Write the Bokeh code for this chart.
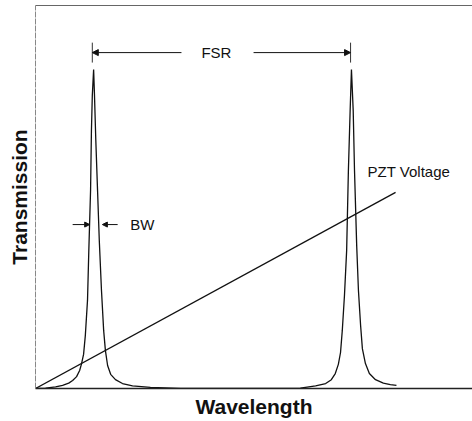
from bokeh.plotting import figure
from bokeh.models import Range1d, Label, Arrow, NormalHead, LinearAxis, FixedTicker
from bokeh.embed import file_html
from bokeh.resources import INLINE

# Transmission curve (wavelength, arbitrary units; transmission 0..1)
wavelength = [0.00, 0.23, 0.46, 0.62, 0.76, 0.85, 0.94, 1.01, 1.05, 1.10, 1.14, 1.19, 1.22,
              1.26, 1.28, 1.30, 1.33, 1.35, 1.38, 1.42, 1.46, 1.51, 1.56, 1.60, 1.65, 1.72,
              1.83, 1.99, 2.22, 2.63, 3.32, 4.46, 5.61, 6.06, 6.41, 6.64, 6.77, 6.86, 6.93,
              6.98, 7.02, 7.07, 7.12, 7.16, 7.20, 7.23, 7.27, 7.30, 7.35, 7.39, 7.44, 7.48,
              7.55, 7.64, 7.78, 7.96, 8.12, 8.26]
transmission = [0.000, 0.001, 0.004, 0.008, 0.014, 0.021, 0.031, 0.047, 0.063, 0.089, 0.138,
                0.230, 0.360, 0.517, 0.674, 0.765, 0.833, 0.765, 0.648, 0.517, 0.386, 0.256,
                0.151, 0.099, 0.060, 0.037, 0.023, 0.013, 0.007, 0.003, 0.000, 0.000, 0.000,
                0.001, 0.007, 0.013, 0.023, 0.039, 0.063, 0.094, 0.151, 0.243, 0.360, 0.569,
                0.726, 0.833, 0.726, 0.569, 0.373, 0.256, 0.164, 0.104, 0.065, 0.039, 0.023,
                0.014, 0.010, 0.008]

# PZT voltage ramp
pzt_x = [0.0, 8.24]
pzt_y = [0.0, 0.512]

# Annotation anchors (data units)
peak_positions = [1.30, 7.21]
fsr_level = 0.877
bw_level = 0.428

p = figure(width=472, height=421, output_backend="svg", toolbar_location=None,
           x_range=Range1d(0, 10.0), y_range=Range1d(0, 1.0),
           min_border_left=35, min_border_right=0, min_border_top=5, min_border_bottom=33)
p.outline_line_color = None
p.grid.visible = False
p.background_fill_color = "white"
p.border_fill_color = "white"

# axes (no ticks, no tick labels)
for ax in (p.xaxis[0], p.yaxis[0]):
    ax.ticker = FixedTicker(ticks=[])
    ax.major_tick_line_color = None
    ax.minor_tick_line_color = None
    ax.major_tick_out = 0
    ax.major_label_standoff = 0
    ax.axis_label_text_font = "Liberation Sans"
    ax.axis_label_text_font_style = "bold"
    ax.axis_label_text_font_size = "21px"
    ax.axis_label_text_color = "#111111"

p.xaxis.axis_label = "Wavelength"
p.xaxis.axis_line_color = "#222222"
p.xaxis.axis_line_width = 1.5
p.xaxis.axis_label_standoff = 6

p.yaxis.axis_label = "Transmission"
p.yaxis.axis_line_color = "#888888"
p.yaxis.axis_line_width = 1
p.yaxis.axis_line_dash = "6 1"
p.yaxis.axis_label_standoff = 5

top_axis = LinearAxis(ticker=FixedTicker(ticks=[]), major_tick_line_color=None,
                      minor_tick_line_color=None, major_tick_out=0, major_label_standoff=0,
                      axis_line_color="#666666", axis_line_width=1.2)
p.add_layout(top_axis, "above")

# curves
p.line(wavelength, transmission, line_color="#111111", line_width=1.3)
p.line(pzt_x, pzt_y, line_color="#111111", line_width=1.3)

# FSR marker
for xp in peak_positions:
    p.segment(x0=[xp], y0=[0.851], x1=[xp], y1=[0.903], line_color="#333333", line_width=1)
p.add_layout(Arrow(end=NormalHead(size=6, fill_color="#111111", line_color="#111111"),
                   x_start=3.34, y_start=fsr_level, x_end=peak_positions[0], y_end=fsr_level,
                   line_color="#111111", line_width=1))
p.add_layout(Arrow(end=NormalHead(size=6, fill_color="#111111", line_color="#111111"),
                   x_start=4.99, y_start=fsr_level, x_end=peak_positions[1], y_end=fsr_level,
                   line_color="#111111", line_width=1))
p.add_layout(Label(x=4.14, y=fsr_level, text="FSR", text_font="Liberation Sans",
                   text_font_size="15px", text_align="center", text_baseline="middle",
                   text_color="#111111"))

# BW marker
p.add_layout(Arrow(end=NormalHead(size=5, fill_color="#111111", line_color="#111111"),
                   x_start=0.85, y_start=bw_level, x_end=1.24, y_end=bw_level,
                   line_color="#111111", line_width=1))
p.add_layout(Arrow(end=NormalHead(size=5, fill_color="#111111", line_color="#111111"),
                   x_start=1.88, y_start=bw_level, x_end=1.53, y_end=bw_level,
                   line_color="#111111", line_width=1))
p.add_layout(Label(x=2.17, y=bw_level, text="BW", text_font="Liberation Sans",
                   text_font_size="15px", text_align="left", text_baseline="middle",
                   text_color="#111111"))

# PZT label
p.add_layout(Label(x=7.60, y=0.567, text="PZT Voltage", text_font="Liberation Sans",
                   text_font_size="15px", text_align="left", text_baseline="middle",
                   text_color="#111111"))

open("out.html", "w").write(file_html(p, INLINE))
